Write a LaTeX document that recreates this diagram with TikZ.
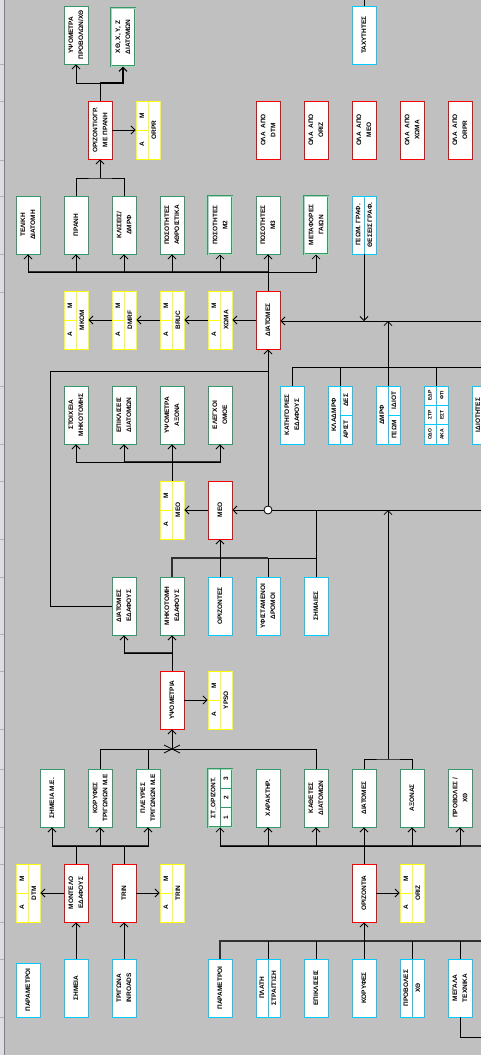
\documentclass[tikz,border=0pt]{standalone}
\usepackage{fontspec}
\setmainfont{Liberation Sans}
\usetikzlibrary{arrows.meta,calc}
\definecolor{bgc}{HTML}{C0C0C0}
\definecolor{redc}{HTML}{FF0000}
\definecolor{grnc}{HTML}{339966}
\definecolor{lgrn}{HTML}{A8D8BC}
\definecolor{cync}{HTML}{00CCFF}
\definecolor{ylwc}{HTML}{FFFF00}
\definecolor{stripc}{HTML}{DCDCE2}
\definecolor{busc}{HTML}{303030}
\tikzset{
  base/.style={draw, fill=white, minimum width=24pt, minimum height=58pt, inner sep=0pt, line width=0.9pt},
  redbox/.style={base, draw=redc},
  grnbox/.style={base, draw=grnc},
  cynbox/.style={base, draw=cync},
  ylwbox/.style={base, draw=ylwc},
  thkbox/.style={base, draw=grnc, line width=1pt, double=lgrn, double distance=0.9pt},
  lbl/.style={rotate=90, align=center, inner sep=0pt, font=\fontsize{6.5}{10}\selectfont\bfseries},
  slbl/.style={rotate=90, align=center, inner sep=0pt, font=\fontsize{5}{6}\selectfont\bfseries},
  ln/.style={line width=0.8pt, black},
  bus/.style={line width=1.3pt, busc},
  arr/.style={ln, -{Straight Barb[length=4pt, width=8pt]}},
}
\newcommand\mkB[4]{\node[#1] (#2) at (#3) {}; \node[lbl] (#2-t) at (#2) {#4};}
\newcommand\mkY[3]{%
  \node[ylwbox] (#1) at (#2) {};
  \draw[ylwc, line width=0.9pt] (#1.north) -- (#1.south) (#1.west) -- (#1.center);
  \node[lbl] (#1-m) at ($(#1.center)+(-6,-14.5)$) {Μ};
  \node[lbl] (#1-a) at ($(#1.center)+(-6,14.5)$) {Α};
  \node[lbl] (#1-t) at ($(#1.center)+(6,0)$) {#3};}
\begin{document}
\begin{tikzpicture}[x=1pt,y=-1pt]
\useasboundingbox (0,0) rectangle (481,1055);
\clip (0,0) rectangle (481,1055);
\fill[bgc] (0,0) rectangle (481,1055);
% left strip
\fill[stripc] (0,0) rectangle (4,1055);
\draw[gray, line width=0.6pt] (4,0) -- (4,1055);
\foreach \yy in {64,101,160,196,254,292,386,444,481,539,577,634,671,729,769,827,864,922,959,1017}
  \draw[gray!60, line width=0.5pt] (0,\yy) -- (4,\yy);

% ---------------- boxes ----------------
% row A
\mkB{grnbox}{ypsprov}{76,35}{ΥΨΟΜΕΤΡΑ\\ΠΡΟΒΟΛΩΝ/ΧΘ}
\mkB{thkbox}{xth}{123,37}{ΧΘ, Χ, Υ, Ζ\\ΔΙΑΤΟΜΩΝ}
\mkB{cynbox}{tax}{364,35}{ΤΑΧΥΤΗΤΕΣ}
% row B
\mkB{redbox}{orizpr}{100,130}{ΟΡΙΖΟΝΤΙΟΓΡ.\\ΜΕ ΠΡΑΝΗ}
\mkY{orpr}{148,130}{ORPR}
\mkB{redbox}{olaA}{268,130}{ΟΛΑ\ \ ΑΠΟ\\DTM}
\mkB{redbox}{olaB}{316,130}{ΟΛΑ\ \ ΑΠΟ\\ORIZ}
\mkB{redbox}{olaC}{364,130}{ΟΛΑ\ \ ΑΠΟ\\ΜΕΟ}
\mkB{redbox}{olaD}{412,130}{ΟΛΑ\ \ ΑΠΟ\\ΧΩΜΑ}
\mkB{redbox}{olaE}{460,130}{ΟΛΑ\ \ ΑΠΟ\\ORPR}
% row C
\mkB{grnbox}{teliki}{28,225}{ΤΕΛΙΚΗ\\ΔΙΑΤΟΜΗ}
\mkB{grnbox}{prani}{76,225}{ΠΡΑΝΗ}
\mkB{grnbox}{klis}{124,225}{ΚΛΙΣΕΙΣ/\\ΔΜΡΦ}
\mkB{grnbox}{posath}{172,225}{ΠΟΣΟΤΗΤΕΣ\\ΑΘΡΟΙΣΤΙΚΑ}
\mkB{thkbox}{posmb}{220,225}{ΠΟΣΟΤΗΤΕΣ\\Μ2}
\mkB{grnbox}{posmc}{268,225}{ΠΟΣΟΤΗΤΕΣ\\Μ3}
\mkB{thkbox}{metaf}{316,225}{ΜΕΤΑΦΟΡΕΣ\\ΓΑΙΩΝ}
\node[cynbox] (geomgraf) at (364,225) {};
\draw[cync, line width=0.9pt] (geomgraf.north) -- (geomgraf.south);
\node[lbl] (geomgraf-a) at (358,225) {ΓΕΩΜ. ΓΡΑΦ.};
\node[lbl] (geomgraf-b) at (370,225) {ΘΕΣΕΙΣ ΓΡΑΦ.};
% row D
\mkY{mkom}{76,320}{MKOM}
\mkY{dmrf}{124,320}{DMRF}
\mkY{bruc}{172,320}{BRUC}
\mkY{xoma}{220,320}{ΧΩΜΑ}
\mkB{redbox}{diat}{268,320}{ΔΙΑΤΟΜΕΣ}
% row E
\mkB{grnbox}{stoix}{76,415}{ΣΤΟΙΧΕΙΑ\\ΜΗΚΟΤΟΜΗΣ}
\mkB{grnbox}{epikl}{124,415}{ΕΠΙΚΛΙΣΕΙΣ\\ΔΙΑΤΟΜΩΝ}
\mkB{grnbox}{ypsax}{172,415}{ΥΨΟΜΕΤΡΑ\\ΑΞΟΝΑ}
\mkB{grnbox}{elegx}{220,415}{ΕΛΕΓΧΟΙ\\ΟΜΟΕ}
\mkB{cynbox}{katig}{292,415}{ΚΑΤΗΓΟΡΙΕΣ\\ΕΔΑΦΟΥΣ}
\node[cynbox] (klad) at (340,415) {};
\draw[cync, line width=0.9pt] (klad.north) -- (klad.south) (klad.center) -- (klad.east);
\node[lbl] (klad-a) at (334,415) {ΚΛΑΔΜΡΦ};
\node[lbl] (klad-b) at (346,400.5) {ΔΕΣ};
\node[lbl] (klad-c) at (346,429.5) {ΑΡΙΣΤ};
\node[cynbox] (dmrfg) at (388,415) {};
\draw[cync, line width=0.9pt] (dmrfg.north) -- (dmrfg.south) (dmrfg.center) -- (dmrfg.east);
\node[lbl] (dmrfg-a) at (382,415) {ΔΜΡΦ};
\node[lbl] (dmrfg-b) at (394,400.5) {ΙΔΙΟΤ};
\node[lbl] (dmrfg-c) at (394,429.5) {ΓΕΩΜ};
\node[cynbox] (six) at (436,415) {};
\draw[cync, line width=0.9pt] (six.north) -- (six.south) (424,405.3) -- (448,405.3) (424,424.7) -- (448,424.7);
\node[slbl] (six-a) at (430,395.7) {ΕΔΡ};
\node[slbl] (six-b) at (430,415) {ΣΤΡ};
\node[slbl] (six-c) at (430,434.3) {ΟΔΟ};
\node[slbl] (six-d) at (442,395.7) {ΦΤΙ};
\node[slbl] (six-e) at (442,415) {ΕΣΤ};
\node[slbl] (six-f) at (442,434.3) {ΑΚΑ};
\node[cynbox] (idiot) at (484,415) {};
\node[lbl] (idiot-t) at (478,415) {ΙΔΙΟΤΗΤΕΣ};
% row F
\mkY{meoy}{172,510}{ΜΕΟ}
\mkB{redbox}{meo}{220,510}{ΜΕΟ}
% row G
\mkB{grnbox}{diated}{124,606}{ΔΙΑΤΟΜΕΣ\\ΕΔΑΦΟΥΣ}
\mkB{grnbox}{mikot}{172,606}{ΜΗΚΟΤΟΜΗ\\ΕΔΑΦΟΥΣ}
\mkB{cynbox}{orizg}{220,606}{ΟΡΙΖΟΝΤΕΣ}
\mkB{cynbox}{yfist}{268,606}{ΥΦΙΣΤΑΜΕΝΟΙ\\ΔΡΟΜΟΙ}
\mkB{cynbox}{simaies}{316,606}{ΣΗΜΑΙΕΣ}
% row H
\mkB{redbox}{ypsbox}{172,700}{ΥΨΟΜΕΤΡΙΑ}
\mkY{ypsy}{220,700}{YPSO}
% row I
\mkB{grnbox}{simme}{52,798}{ΣΗΜΕΙΑ Μ.Ε.}
\mkB{grnbox}{koryf}{100,798}{ΚΟΡΥΦΕΣ\\ΤΡΙΓΩΝΩΝ Μ.Ε}
\mkB{grnbox}{plevr}{148,798}{ΠΛΕΥΡΕΣ\\ΤΡΙΓΩΝΩΝ Μ.Ε}
\node[thkbox] (storiz) at (220,798) {};
\draw[grnc, line width=0.8pt] (storiz.north) -- (storiz.south) (220,788.3) -- (232,788.3) (220,807.7) -- (232,807.7);
\node[lbl] (storiz-a) at (213.5,798) {ΣΤ\_ΟΡΙΖΟΝΤ.};
\node[lbl] (storiz-b) at (226,778.7) {3};
\node[lbl] (storiz-c) at (226,798) {2};
\node[lbl] (storiz-d) at (226,817.3) {1};
\mkB{grnbox}{xarakt}{268,798}{ΧΑΡΑΚΤΗΡ.}
\mkB{grnbox}{kathet}{316,798}{ΚΑΘΕΤΕΣ\\ΔΙΑΤΟΜΩΝ}
\mkB{grnbox}{diati}{364,798}{ΔΙΑΤΟΜΕΣ}
\mkB{grnbox}{axon}{412,798}{ΑΞΟΝΑΣ}
\mkB{grnbox}{provi}{460,798}{ΠΡΟΒΟΛΕΣ /\\ΧΘ}
% row J
\mkY{dtm}{28,893}{DTM}
\mkB{redbox}{montelo}{76,893}{ΜΟΝΤΕΛΟ\\ΕΔΑΦΟΥΣ}
\mkB{redbox}{trin}{124,893}{TRIN}
\mkY{triny}{172,893}{TRIN}
\mkB{redbox}{orizontia}{364,893}{ΟΡΙΖΟΝΤΙΑ}
\mkY{orizy}{412,893}{ORIZ}
% row K
\node[cynbox, minimum height=54pt] (parama) at (28,990) {};
\node[lbl] (parama-t) at (parama) {ΠΑΡΑΜΕΤΡΟΙ};
\mkB{cynbox}{simeia}{76,988}{ΣΗΜΕΙΑ}
\mkB{cynbox}{trigona}{124,988}{ΤΡΙΓΩΝΑ\\INROADS}
\mkB{cynbox}{paramb}{220,988}{ΠΑΡΑΜΕΤΡΟΙ}
\node[cynbox] (plati) at (268,988) {};
\draw[cync, line width=0.9pt] (plati.north) -- (plati.south);
\node[lbl] (plati-a) at (262,988) {ΠΛΑΤΗ};
\node[lbl] (plati-b) at (274,988) {ΣΤΡΑΓΓΙΣΗ};
\mkB{cynbox}{epiklk}{316,988}{ΕΠΙΚΛΙΣΕΙΣ}
\mkB{cynbox}{koryfk}{364,988}{ΚΟΡΥΦΕΣ}
\node[cynbox] (provk) at (412,988) {};
\draw[cync, line width=0.9pt] (provk.north) -- (provk.south);
\node[lbl] (provk-a) at (406,988) {ΠΡΟΒΟΛΕΣ};
\node[lbl] (provk-b) at (418,988) {ΧΘ};
\mkB{cynbox}{megala}{460,988}{ΜΕΓΑΛΑ\\ΤΕΧΝΙΚΑ}

% ---------------- connectors ----------------
% top
\coordinate (jA) at (100,83);
\draw[ln] (orizpr.north) -- (jA);
\draw[arr] (jA) -| (ypsprov.south);
\draw[arr, line width=1.2pt] (jA) -| (xth.south);
\draw[arr] (orizpr.east) -- (orpr.west);
\coordinate (jB) at (100,178);
\draw[ln] (prani.north) |- (jB) -| (klis.north);
\draw[arr] (jB) -- (orizpr.south);
\coordinate (tTop) at (364,0);
\draw[ln] (tax.north) -- (tTop);
% row C bus
\coordinate (bC) at (268,272);
\draw[ln] (diat.north) -- (bC);
\draw[bus] (bC) -- (teliki.south |- bC);
\draw[ln] (bC) -- (metaf.south |- bC);
\foreach \n in {teliki,prani,klis,posath,posmb,posmc,metaf}
  \draw[arr] (bC) -| (\n.south);
% row D chain
\draw[arr] (diat.west) -- (xoma.east);
\draw[arr] (xoma.west) -- (bruc.east);
\draw[arr] (bruc.west) -- (dmrf.east);
\draw[arr] (dmrf.west) -- (mkom.east);
\coordinate (rD) at (481,321);
\draw[arr] (rD) -- (diat.east |- rD);
\draw[arr] (geomgraf.south) -- (geomgraf.south |- rD);
\coordinate (bE) at (388,367);
\coordinate (bEr) at (481,367);
\draw[arr] (bE) -- (bE |- rD);
\draw[ln] (katig.north) |- (bEr);
\foreach \n in {klad,dmrfg,six,idiot}
  \draw[ln] (\n.north) -- (\n.north |- bE);
% MEO feeds
\coordinate (lp) at (50,371);
\coordinate (cjc) at (268,510);
\draw[ln] (diated.west) -| (lp) -- (cjc |- lp);
\coordinate (bEE) at (172,462);
\draw[ln] (meoy.north) -- (bEE);
\draw[bus] (epikl.south |- bEE) -- (elegx.south |- bEE);
\foreach \n in {stoix,epikl,ypsax,elegx}
  \draw[arr] (bEE) -| (\n.south);
\draw[arr] (meo.west) -- (meoy.east);
\coordinate (rF) at (481,510);
\draw[arr] (rF) -- (meo.east);
\node[circle, draw, fill=white, line width=0.8pt, minimum size=8pt, inner sep=0pt] (cj) at (cjc) {};
\draw[arr] (cj.north) -- (diat.south);
\draw[ln] (simaies.north) -- (simaies.north |- rF);
\coordinate (jI) at (388,759);
\draw[arr] (jI) -- (jI |- rF);
\draw[ln] (diati.north) |- (jI) -| (axon.north);
\coordinate (bG) at (316,558);
\draw[bus] (mikot.north) |- (yfist.north |- bG);
\draw[ln] (yfist.north |- bG) -- (bG);
\draw[ln] (yfist.north) -- (yfist.north |- bG);
\draw[arr] (orizg.north) -- (meo.south);
% ypsometria
\coordinate (bH) at (172,653);
\draw[ln] (ypsbox.north) -- (bH);
\draw[bus] (bH) -- (diated.south |- bH);
\draw[arr] (bH) -| (diated.south);
\draw[arr] (bH) -- (mikot.south);
\draw[arr] (ypsbox.east) -- (ypsy.west);
\coordinate (bI) at (172,749);
\draw[arr] (bI) -- (ypsbox.south);
\draw[ln] (koryf.north) |- (kathet.north |- bI) -- (kathet.north);
\draw[ln] (plevr.north) -- (plevr.north |- bI);
\draw[ln] ($(bI)+(-8,-4)$) -- ($(bI)+(8,4)$);
\draw[ln] ($(bI)+(-8,4)$) -- ($(bI)+(8,-4)$);
% bus 846
\coordinate (bJ) at (100,846);
\draw[bus] (simme.south |- bJ) -- (plevr.south |- bJ);
\foreach \n in {simme,koryf,plevr}
  \draw[arr] (bJ) -| (\n.south);
\draw[ln] (montelo.north) -- (montelo.north |- bJ);
\draw[ln] (trin.north) -- (trin.north |- bJ);
\coordinate (bJb) at (364,846);
\coordinate (bJr) at (481,846);
\draw[bus] (storiz.south |- bJb) -- (bJr);
\foreach \n in {storiz,xarakt,kathet,diati,axon,provi}
  \draw[arr] (bJb) -| (\n.south);
\draw[ln] (bJb) -- (orizontia.north);
% row J arrows
\draw[arr] (montelo.west) -- (dtm.east);
\draw[arr] (trin.east) -- (triny.west);
\draw[arr] (orizontia.east) -- (orizy.west);
\draw[arr] (simeia.north) -- (montelo.south);
\draw[arr] (trigona.north) -- (trin.south);
% bus 941
\coordinate (bK) at (364,941);
\coordinate (bKr) at (481,941);
\draw[bus] (paramb.north) |- (bKr);
\foreach \n in {plati,epiklk,koryfk,provk,megala}
  \draw[ln] (\n.north) -- (\n.north |- bK);
\draw[arr] (bK) -- (orizontia.south);
\coordinate (mg) at (481,1037);
\draw[ln] (megala.south) |- (mg);
\end{tikzpicture}
\end{document}
